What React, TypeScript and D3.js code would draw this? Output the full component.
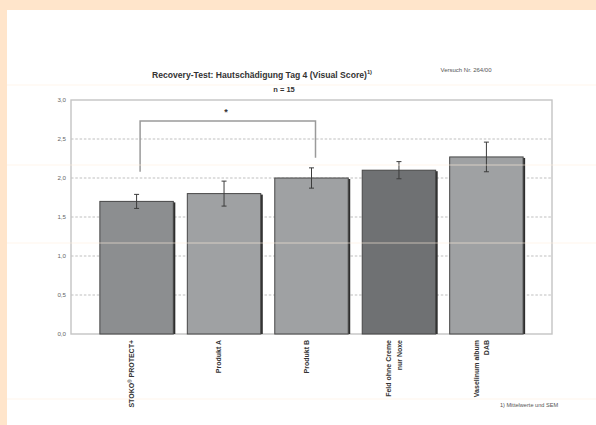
import React from "react";
import * as d3 from "d3";

const categories: string[][] = [
  ["STOKO® PROTECT+"],
  ["Produkt A"],
  ["Produkt B"],
  ["Feld ohne Creme", "nur Noxe"],
  ["Vaselinum album", "DAB"],
];
const means: number[] = [1.7, 1.8, 2.0, 2.1, 2.27];
const sems: number[] = [0.09, 0.16, 0.13, 0.11, 0.19];
const barColors: string[] = ["#8c8e90", "#9fa1a3", "#9fa1a3", "#6f7173", "#9fa1a3"];
const yTicks: number[] = [0, 0.5, 1.0, 1.5, 2.0, 2.5, 3.0];
const bracket = { from: 0, to: 2, level: 2.73, leftEnd: 2.08, rightEnd: 2.26 };

const W = 596;
const H = 425;
const margin = { left: 71, right: 44, top: 100, bottom: 91 };

function renderLabel(l: string) {
  const idx = l.indexOf("®");
  if (idx < 0) return l;
  return (
    <>
      {l.slice(0, idx)}
      <tspan fontSize={4.5} dy={-2.5}>®</tspan>
      <tspan dy={2.5}>{l.slice(idx + 1)}</tspan>
    </>
  );
}

export default function App() {
  const x = d3
    .scaleBand<number>()
    .domain(categories.map((_, i) => i))
    .range([margin.left, W - margin.right])
    .paddingInner(0.16)
    .paddingOuter(0.33);
  const y = d3.scaleLinear().domain([0, 3]).range([H - margin.bottom, margin.top]);
  const fmt = (v: number) => d3.format(".1f")(v).replace(".", ",");
  const bw = x.bandwidth();
  const font = "'Liberation Sans', Arial, sans-serif";
  const cx = (i: number) => (x(i) as number) + bw / 2;

  return (
    <div style={{ position: "fixed", left: 0, top: 0 }}>
      <svg width={W} height={H} style={{ display: "block", fontFamily: font }}>
        <rect x={0} y={0} width={W} height={H} fill="#ffffff" />
        <rect x={0} y={0} width={W} height={10} fill="#ffe5cb" />
        <rect x={0} y={0} width={7} height={H} fill="#ffe5cb" />

        {/* title */}
        <text x={262} y={78} textAnchor="middle" fontSize={8.6} fontWeight="bold" fill="#333">
          Recovery-Test: Hautschädigung Tag 4 (Visual Score)
          <tspan fontSize={5.8} dy={-4}>1)</tspan>
        </text>
        <text x={284} y={92} textAnchor="middle" fontSize={7.5} fontWeight="bold" fill="#333">
          n = 15
        </text>
        <text x={466} y={72} textAnchor="middle" fontSize={6} fill="#555">
          Versuch Nr. 264/00
        </text>

        {/* grid */}
        {yTicks
          .filter((t) => t > 0 && t < 3)
          .map((t) => (
            <line
              key={"g" + t}
              x1={margin.left}
              x2={W - margin.right}
              y1={y(t)}
              y2={y(t)}
              stroke="#b8b8b8"
              strokeWidth={0.9}
              strokeDasharray="2.5,1.8"
            />
          ))}

        {/* frame */}
        <rect
          x={margin.left}
          y={margin.top}
          width={W - margin.left - margin.right}
          height={H - margin.top - margin.bottom}
          fill="none"
          stroke="#c4c4c4"
          strokeWidth={1.4}
        />

        {/* y tick labels */}
        {yTicks.map((t) => (
          <text key={"t" + t} x={66} y={y(t)} dy="0.35em" textAnchor="end" fontSize={6.2} fill="#666">
            {fmt(t)}
          </text>
        ))}

        {/* bars */}
        {means.map((m, i) => (
          <g key={"b" + i}>
            <rect x={(x(i) as number) + 2} y={y(m) + 1} width={bw} height={y(0) - y(m) - 1} fill="#2e2e2e" />
            <rect
              x={x(i)}
              y={y(m)}
              width={bw}
              height={y(0) - y(m)}
              fill={barColors[i]}
              stroke="#474747"
              strokeWidth={1}
            />
          </g>
        ))}

        {/* error bars */}
        {means.map((m, i) => (
          <g key={"e" + i} stroke="#3c3c3c" strokeWidth={1}>
            <line x1={cx(i)} x2={cx(i)} y1={y(m + sems[i])} y2={y(m - sems[i])} />
            <line x1={cx(i) - 2.5} x2={cx(i) + 2.5} y1={y(m + sems[i])} y2={y(m + sems[i])} />
            <line x1={cx(i) - 2.5} x2={cx(i) + 2.5} y1={y(m - sems[i])} y2={y(m - sems[i])} />
          </g>
        ))}

        {/* significance bracket */}
        <path
          d={`M${cx(bracket.from) + 3.5},${y(bracket.leftEnd)} V${y(bracket.level)} H${cx(bracket.to) + 4} V${y(bracket.rightEnd)}`}
          fill="none"
          stroke="#9a9a9a"
          strokeWidth={1.5}
        />
        <text
          x={(cx(bracket.from) + cx(bracket.to)) / 2 + 2}
          y={y(bracket.level) - 6}
          textAnchor="middle"
          fontSize={9}
          fontWeight="bold"
          fill="#333"
        >
          *
        </text>

        {/* x labels */}
        {categories.map((lines, i) => (
          <text
            key={"x" + i}
            transform={`translate(${cx(i) - 5 - (lines.length - 1) * 5.3},${y(0) + 6}) rotate(-90)`}
            textAnchor="end"
            fontSize={7}
            fontWeight="bold"
            fill="#333"
          >
            {lines.map((l, j) => (
              <tspan key={j} x={0} dy={j === 0 ? "0.35em" : "1.5em"}>
                {renderLabel(l)}
              </tspan>
            ))}
          </text>
        ))}

        <text x={529} y={407} textAnchor="middle" fontSize={5.6} fill="#555">
          1) Mittelwerte und SEM
        </text>

        {/* faint scan lines */}
        {[85, 165, 243, 399].map((yy) => (
          <line key={"s" + yy} x1={7} x2={W} y1={yy} y2={yy} stroke="#ffeedd" strokeOpacity={0.6} strokeWidth={1} />
        ))}
      </svg>
    </div>
  );
}
